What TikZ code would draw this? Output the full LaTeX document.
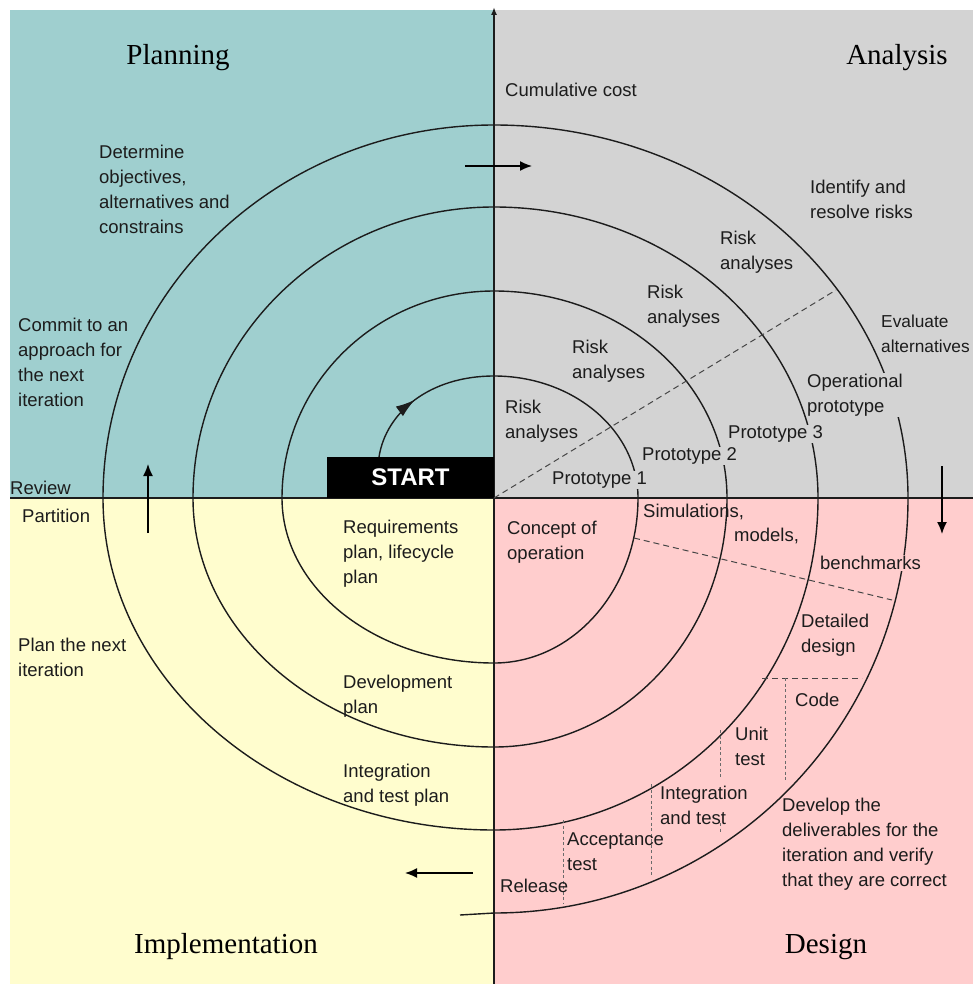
\documentclass[tikz,border=0pt]{standalone}
\usepackage{fontspec}
\setmainfont{Liberation Serif}
\setsansfont{Liberation Sans}
\usetikzlibrary{arrows.meta,decorations.markings}
\definecolor{planC}{RGB}{159,207,207}
\definecolor{anaC}{RGB}{211,211,211}
\definecolor{impC}{RGB}{255,253,206}
\definecolor{desC}{RGB}{255,205,205}
\definecolor{inkC}{RGB}{28,28,28}
\definecolor{dashC}{RGB}{70,70,70}
\tikzset{
  lbl/.style={anchor=west, align=left, font=\sffamily\fontsize{18.5}{25}\selectfont, text=inkC, inner sep=1pt},
  ttl/.style={anchor=base, font=\rmfamily\fontsize{29}{30}\selectfont, text=black, inner sep=0pt},
  spiral/.style={draw=inkC, line width=1.4pt},
  axisln/.style={draw=inkC, line width=1.6pt},
  dashln/.style={draw=dashC, line width=1pt, dash pattern=on 6pt off 4pt},
  dotln/.style={draw=dashC!80, line width=1pt, dash pattern=on 3pt off 2.5pt},
  flowarrow/.style={draw=black, line width=1.5pt, -{Latex[length=12pt,width=10pt]}},
  startbox/.style={fill=black, text=white, minimum width=167pt, minimum height=41pt, inner sep=0pt,
    font=\sffamily\bfseries\fontsize{24}{26}\selectfont},
}
\begin{document}
\begin{tikzpicture}[x=1pt,y=-1pt]
\useasboundingbox (0,0) rectangle (973,984);
\fill[white] (0,0) rectangle (973,984);
% quadrants
\fill[planC] (10,10) rectangle (494,498);
\fill[anaC] (494,10) rectangle (973,498);
\fill[impC] (10,498) rectangle (494,984);
\fill[desC] (494,498) rectangle (973,984);

% axes
\coordinate (axBot) at (494,984);
\coordinate (axTop) at (494,7);
\coordinate (axL) at (10,498);
\coordinate (axR) at (973,498);
\draw[axisln, -{Latex[length=8pt,width=6pt]}] (axBot) -- (axTop);
\draw[axisln] (axL) -- (axR);

% spiral
\coordinate (sp0) at (494,376);
\draw[spiral] (sp0)
  arc[start angle=-90,end angle=0,x radius=144,y radius=122]
  arc[start angle=0,end angle=90,x radius=144,y radius=165]
  arc[start angle=90,end angle=180,x radius=212,y radius=165]
  arc[start angle=180,end angle=270,x radius=212,y radius=207]
  arc[start angle=-90,end angle=0,x radius=233,y radius=207]
  arc[start angle=0,end angle=90,x radius=233,y radius=249]
  arc[start angle=90,end angle=180,x radius=301,y radius=249]
  arc[start angle=180,end angle=270,x radius=301,y radius=291]
  arc[start angle=-90,end angle=0,x radius=324,y radius=291]
  arc[start angle=0,end angle=90,x radius=324,y radius=332]
  arc[start angle=90,end angle=180,x radius=391,y radius=332]
  arc[start angle=180,end angle=270,x radius=391,y radius=373]
  arc[start angle=-90,end angle=0,x radius=414,y radius=373]
  arc[start angle=0,end angle=90,x radius=414,y radius=415]
  -- (460,915);

% START box and start arc
\node[startbox] (start) at (410.5,477.5) {START};
\coordinate (st0) at (379,457);
\draw[spiral, postaction={decorate}, decoration={markings,
   mark=at position 0.45 with {\arrow{Latex[length=19pt,width=12pt]}}}]
  (st0) .. controls (386,412) and (430,376) .. (sp0);

% dashed dividers
\coordinate (d1a) at (494,498); \coordinate (d1b) at (836,290);
\draw[dashln] (d1a) -- (d1b);
\coordinate (d2a) at (634,538); \coordinate (d2b) at (892,600);
\draw[dashln] (d2a) -- (d2b);
\coordinate (d3a) at (762,678); \coordinate (d3b) at (862,678);
\draw[dashln] (d3a) -- (d3b);
\coordinate (d4a) at (785,678); \coordinate (d4b) at (785,781);
\draw[dotln] (d4a) -- (d4b);
\coordinate (d5a) at (720,730); \coordinate (d5b) at (720,779);
\draw[dotln] (d5a) -- (d5b);
\coordinate (d5c) at (720,823); \coordinate (d5d) at (720,833);
\draw[dotln] (d5c) -- (d5d);
\coordinate (d6a) at (651,784); \coordinate (d6b) at (651,875);
\draw[dotln] (d6a) -- (d6b);
\coordinate (d7a) at (563,820); \coordinate (d7b) at (563,903);
\draw[dotln] (d7a) -- (d7b);

% flow arrows
\coordinate (fa1) at (465,166); \coordinate (fa2) at (532,166);
\draw[flowarrow] (fa1) -- (fa2);
\coordinate (fb1) at (942,466); \coordinate (fb2) at (942,534);
\draw[flowarrow] (fb1) -- (fb2);
\coordinate (fc1) at (473,873); \coordinate (fc2) at (405,873);
\draw[flowarrow] (fc1) -- (fc2);
\coordinate (fd1) at (148,533); \coordinate (fd2) at (148,464);
\draw[flowarrow] (fd1) -- (fd2);

% titles
\node[ttl] (tPlan) at (178,65) {Planning};
\node[ttl] (tAna) at (897,65) {Analysis};
\node[ttl] (tImp) at (226,953) {Implementation};
\node[ttl] (tDes) at (826,953) {Design};

% planning quadrant
\node[lbl] (lDet) at (98,189) {Determine\\objectives,\\alternatives and\\constrains};
\node[lbl] (lCom) at (17,362) {Commit to an\\approach for\\the next\\iteration};
\node[lbl] (lRev) at (9,488) {Review};

% analysis quadrant
\node[lbl] (lCum) at (504,90) {Cumulative cost};
\node[lbl] (lIde) at (809,199) {Identify and\\resolve risks};
\node[lbl] (lR4) at (719,252) {Risk\\analyses};
\node[lbl] (lR3) at (646,306) {Risk\\analyses};
\node[lbl] (lR2) at (571,361) {Risk\\analyses};
\node[lbl] (lR1) at (504,421) {Risk\\analyses};
\node[lbl, font=\sffamily\fontsize{17.3}{25}\selectfont] (lEva) at (880,334) {Evaluate\\alternatives};
\node[lbl, fill=anaC] (lOpe) at (806,395) {Operational\\prototype};
\node[lbl, fill=anaC] (lP3) at (727,434) {Prototype 3};
\node[lbl, fill=anaC] (lP2) at (641,456) {Prototype 2};
\node[lbl, fill=anaC] (lP1) at (551,480) {Prototype 1};

% implementation quadrant
\node[lbl] (lPar) at (21,516) {Partition};
\node[lbl] (lReq) at (342,554) {Requirements\\plan, lifecycle\\plan};
\node[lbl] (lPla) at (17,657) {Plan the next\\iteration};
\node[lbl] (lDev) at (342,696) {Development\\plan};
\node[lbl] (lInt) at (342,785) {Integration\\and test plan};

% design quadrant
\node[lbl] (lCon) at (506,542) {Concept of\\operation};
\node[lbl] (lSim) at (642,512) {Simulations,};
\node[lbl] (lMod) at (733,536) {models,};
\node[lbl, fill=desC] (lBen) at (819,563) {benchmarks};
\node[lbl] (lDta) at (800,635) {Detailed\\design};
\node[lbl] (lCod) at (794,700) {Code};
\node[lbl] (lUni) at (734,746) {Unit\\test};
\node[lbl] (lItt) at (659,805) {Integration\\and test};
\node[lbl] (lAcc) at (566,852) {Acceptance\\test};
\node[lbl] (lRel) at (499,886) {Release};
\node[lbl] (lDel) at (781,844) {Develop the\\deliverables for the\\iteration and verify\\that they are correct};
\end{tikzpicture}
\end{document}
